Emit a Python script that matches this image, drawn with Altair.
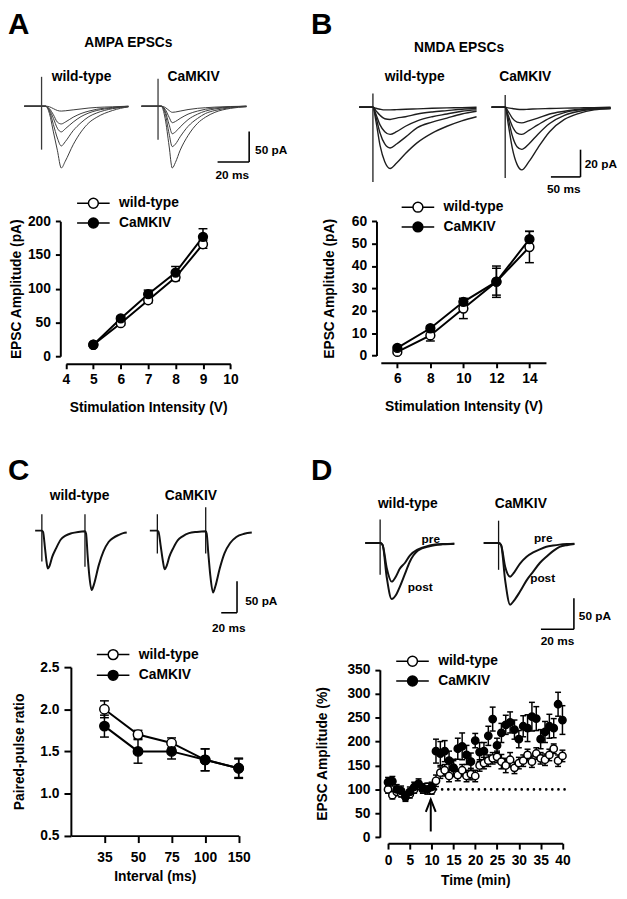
import altair as alt
import pandas as pd

FONT = "Liberation Sans"
W, H = 619, 883
M = 8  # page margin (image px -> canvas px)

# ---------------- summary data ----------------
A_STIM = [5, 6, 7, 8, 9]
A_WT = [17, 49, 83, 117, 166]
A_WT_SEM = [2, 3, 4, 5, 6]
A_CK = [17, 56, 92, 124, 177]
A_CK_SEM = [2, 3, 6, 9, 12]

B_STIM = [6, 8, 10, 12, 14]
B_WT = [1.6, 9, 21, 33, 48.5]
B_WT_SEM = [0.8, 2.5, 4.5, 7, 7]
B_CK = [3.4, 12.2, 24, 33, 52]
B_CK_SEM = [0.8, 1, 1.5, 6, 3.5]

C_INTERVALS = [35, 50, 75, 100, 150]
C_WT = [2.0, 1.7, 1.6, 1.4, 1.3]
C_WT_SEM = [0.1, 0.05, 0.06, 0.13, 0.11]
C_CK = [1.8, 1.5, 1.5, 1.4, 1.3]
C_CK_SEM = [0.13, 0.14, 0.09, 0.13, 0.12]

D_TIME = list(range(0, 41))
D_WT = [100, 88, 95, 92, 85, 90, 100, 108, 100, 105, 98,
        118, 135, 140, 128, 145, 130, 140, 128, 132, 128,
        150, 155, 160, 165, 168, 158, 150, 162, 145, 155,
        160, 172, 158, 175, 165, 162, 172, 185, 160, 170]
D_WT_SEM = [8, 8, 8, 8, 8, 8, 8, 8, 8, 8, 8,
            12, 12, 12, 12, 15, 12, 12, 12, 12, 12,
            12, 12, 12, 12, 12, 15, 15, 15, 12, 12,
            12, 12, 12, 12, 12, 12, 12, 10, 12, 12]
D_CK = [115, 117, 100, 97, 85, 95, 105, 112, 102, 100, 105,
        180, 175, 180, 160, 145, 185, 190, 172, 158, 202,
        178, 180, 212, 247, 192, 218, 235, 240, 225, 205,
        232, 228, 252, 248, 205, 220, 232, 228, 278, 245]
D_CK_SEM = [10, 10, 10, 10, 10, 10, 10, 10, 10, 10, 10,
            25, 25, 22, 20, 18, 22, 28, 20, 18, 15,
            20, 18, 20, 25, 15, 20, 20, 22, 20, 18,
            22, 28, 30, 25, 20, 22, 25, 20, 25, 30]
D_BASELINE = 100
D_DOTS_FROM, D_DOTS_TO = 11, 40.8
D_ARROW_T, D_ARROW_FROM, D_ARROW_TO = 9.8, 12, 79

# ---------------- example traces (ms, pA) ----------------
AMPA_WT_T = [-11, 0, 2.5, 5, 7.5, 10, 12.5, 15, 20, 25, 30, 35, 45, 55]
AMPA_WT = [
    [0, 0, 0, -1, -4, -7, -8, -7.5, -6, -4.5, -3, -2, -1, 0],
    [0, 0, 0, -4, -14, -26, -29, -26, -18, -12, -8, -5, -2, 0],
    [0, 0, 0, -6, -20, -36, -42, -37, -26, -17, -11, -7, -3, -0.5],
    [0, 0, 0, -8, -30, -52, -65, -58, -40, -27, -17, -11, -4, -1],
    [0, 0, 0, -12, -42, -72, -101, -90, -63, -42, -27, -18, -7, -1],
]
AMPA_CK_T = [-10.5, 0, 2, 4.5, 7, 9, 11, 14, 19, 25, 30, 36, 46, 56]
AMPA_CK = [
    [0, 0, 0, -2, -7, -10, -9.5, -8, -5.5, -3.5, -2.5, -1.5, -0.5, 0],
    [0, 0, 0, -5, -18, -27, -25, -20, -13, -8, -5, -3, -1, 0],
    [0, 0, 0, -8, -30, -45, -42, -34, -22, -13, -8, -4.5, -1.5, 0],
    [0, 0, 0, -12, -45, -66, -62, -50, -33, -20, -12, -7, -2.5, -0.5],
    [0, 0, 0, -20, -65, -101, -92, -72, -48, -28, -18, -10, -3.5, -1],
]
AMPA_WT_ART = [(0, 48, -71)]
AMPA_CK_ART = [(0, 45, -55)]

NMDA_WT_T = [-23, 0, 5, 12, 20, 29, 40, 55, 75, 100, 125, 150, 175]
NMDA_WT = [
    [0, 0, -0.8, -1.5, -2, -2, -1.8, -1.5, -1.2, -0.8, -0.5, -0.3, 0],
    [0, 0, -2.5, -6, -8.5, -9, -8, -7, -5, -3.5, -2.5, -1.5, -1],
    [0, 0, -5, -13, -18, -20, -18, -14, -10, -7, -5, -3, -2],
    [0, 0, -7, -19, -27, -30, -27, -22, -15, -11, -8, -5, -3],
    [0, 0, -10, -28, -40, -45, -41, -34, -26, -19, -14, -10, -7],
]
NMDA_CK_T = [-23, 0, 5, 12, 20, 28, 40, 55, 75, 100, 125, 150, 178]
NMDA_CK = [
    [0, 0, -0.5, -1, -1.5, -1.7, -1.5, -1.2, -1, -0.7, -0.5, -0.3, 0],
    [0, 0, -3, -8, -11, -11.5, -10, -8, -5, -3, -1.5, -1, -0.5],
    [0, 0, -6, -14, -19, -20, -17, -13, -8, -4, -2, -1, -0.5],
    [0, 0, -8, -21, -29, -31, -27, -20, -12, -6, -3, -1.5, -1],
    [0, 0, -12, -30, -42, -46, -40, -30, -18, -9, -4.5, -2, -1],
]
NMDA_WT_ART = [(0, 10, -55)]
NMDA_CK_ART = [(0, 9, -52)]

PPR_WT_T = [-8.5, 0, 1.5, 4, 6, 7.5, 10, 13, 18, 24, 30, 38, 46, 54.6,
            56, 58, 60, 63, 66, 72, 78, 84.5, 91, 97, 103, 107.5]
PPR_WT = [[0, 0, -2, -28, -50, -60, -55, -42, -28, -14, -8, -4, -2, -1,
           -5, -40, -70, -94, -85, -55, -33, -18, -11, -7, -4, -3]]
PPR_CK_T = [-9.5, 0, 1.5, 4, 7, 9.25, 12, 15, 20, 26, 32, 40, 50,
            61.25, 62.5, 64.5, 67, 70.5, 73.5, 79, 85, 92, 100, 110, 119.6]
PPR_CK = [[0, 0, -2, -22, -48, -61, -55, -42, -28, -15, -9, -4, -2,
           -1, -5, -35, -70, -98, -88, -60, -36, -20, -10, -5, -3]]
PPR_WT_ART = [(0, 26, -49), (54.6, 26, -57)]
PPR_CK_ART = [(0, 26, -36), (61.25, 37, -36)]

LTP_WT_T = [-9, 0, 1.5, 4, 7, 9.5, 12, 15, 18, 23, 30, 38, 45]
LTP_WT = [
    [0, 0, -3, -40, -62, -54, -41, -32, -20, -10, -4, -1.5, -1],
    [0, 0, -3, -55, -90, -84, -70, -50, -30, -12, -5, -2, -1],
]
LTP_CK_T = [-9, 0, 1.5, 4, 7, 9.5, 13, 17, 21, 25, 29, 33, 37, 42, 46]
LTP_CK = [
    [0, 0, -3, -38, -54, -47, -33, -22, -15, -10, -6, -4, -2.5, -1.5, -1],
    [0, 0, -3, -60, -99, -92, -78, -60, -46, -32, -22, -13, -6, -3, -1.5],
]
LTP_WT_ART = [(0, 38, -51)]
LTP_CK_ART = [(0, 36, -43)]

GENOS = ["wild-type", "CaMKIV"]
SYM = "M-3.3,0L-1,0M1,0L3.3,0M1,0A1,1,0,1,0,-1,0A1,1,0,1,0,1,0Z"


def trace_block(times, traces, arts, stim, base, kx, ky, color, sw, bar=None):
    df = pd.DataFrame([{"t": t, "a": a, "k": i}
                       for i, tr in enumerate(traces) for t, a in zip(times, tr)])
    t0, t1, a0, a1 = -100.0, 300.0, -300.0, 100.0
    xs = alt.Scale(domain=[t0, t1], range=[stim - M + t0 * kx, stim - M + t1 * kx], zero=False, nice=False)
    ys = alt.Scale(domain=[a0, a1], range=[base - M - a0 * ky, base - M - a1 * ky], zero=False, nice=False)
    layers = [alt.Chart(df).mark_line(interpolate="monotone", color=color, strokeWidth=sw).encode(
        x=alt.X("t:Q", scale=xs, axis=None), y=alt.Y("a:Q", scale=ys, axis=None),
        detail="k:N", order="t:Q")]
    adf = pd.DataFrame(arts, columns=["t", "top", "bot"])
    layers.append(alt.Chart(adf).mark_rule(color=color, strokeWidth=1.3).encode(
        x=alt.X("t:Q", scale=xs, axis=None), y=alt.Y("top:Q", scale=ys, axis=None), y2="bot:Q"))
    if bar:
        bx, by, ms, pa = bar
        bdf = pd.DataFrame({"x1": [bx, bx + ms], "x2": [bx + ms, bx + ms],
                            "y1": [by, by], "y2": [by, by + pa]})
        layers.append(alt.Chart(bdf).mark_rule(color="black", strokeWidth=1.6).encode(
            x=alt.X("x1:Q", scale=xs, axis=None), x2="x2:Q",
            y=alt.Y("y1:Q", scale=ys, axis=None), y2="y2:Q"))
    return alt.layer(*layers)


def axis(orient, offset, values, title, tpad, lpad=4, tsize=5, fmt=None, lexpr=None):
    kw = dict(orient=orient, offset=offset, values=values, title=title, titlePadding=tpad, grid=False,
              domainColor="black", domainWidth=2, tickColor="black", tickWidth=2, tickSize=tsize,
              labelFont=FONT, labelFontSize=14, labelFontWeight="bold", labelColor="black",
              labelPadding=lpad, titleFont=FONT, titleFontSize=14, titleFontWeight="bold",
              titleColor="black", labelFlush=False, labelOverlap=False, labelBound=False)
    if fmt:
        kw["format"] = fmt
    if lexpr:
        kw["labelExpr"] = lexpr
    return alt.Axis(**kw)


def legend(lx, ly, rp=4):
    return alt.Legend(title=None, orient="none", legendX=lx, legendY=ly, direction="vertical",
                      symbolType=SYM, symbolSize=100, symbolStrokeColor="black", symbolStrokeWidth=1.5,
                      labelFont=FONT, labelFontSize=14, labelFontWeight="bold", labelColor="black",
                      labelOffset=19, rowPadding=rp, padding=0)


def summary(xv, wt, wt_s, ck, ck_s, xs, ys, xax, yax, leg, size, cap, with_line=True, extra=None):
    n = len(xv)
    df = pd.DataFrame({"x": list(xv) * 2, "m": wt + ck, "s": wt_s + ck_s,
                       "g": [GENOS[0]] * n + [GENOS[1]] * n})
    df["lo"] = df.m - df.s
    df["hi"] = df.m + df.s
    X = alt.X("x:Q", scale=xs, axis=xax)
    base = alt.Chart(df)
    layers = []
    if with_line:
        layers.append(base.mark_line(color="black", strokeWidth=2).encode(
            x=X, y=alt.Y("m:Q", scale=ys, axis=yax), detail="g:N"))
    layers.append(base.mark_rule(color="black", strokeWidth=1.5).encode(
        x=X, y=alt.Y("lo:Q", scale=ys, axis=yax), y2="hi:Q"))
    for f in ("lo", "hi"):
        layers.append(base.mark_point(shape="M-1,0L1,0", size=cap * cap, color="black",
                                      strokeWidth=1.5, opacity=1).encode(
            x=X, y=alt.Y(f"{f}:Q", scale=ys, axis=yax)))
    if extra:
        layers += extra
    layers.append(base.mark_point(shape="circle", size=size, filled=True, stroke="black",
                                  strokeWidth=1.5, opacity=1).encode(
        x=X, y=alt.Y("m:Q", scale=ys, axis=yax),
        fill=alt.Fill("g:N", scale=alt.Scale(domain=GENOS, range=["white", "black"]), legend=leg)))
    return alt.layer(*layers)


def sc(d, r0, r1):
    return alt.Scale(domain=d, range=[r0 - M, r1 - M], zero=False, nice=False)


# ---------------- panel A ----------------
A_tr_wt = trace_block(AMPA_WT_T, AMPA_WT, AMPA_WT_ART, 42, 101.7, 1.6, 0.62, "#3a3a3a", 1.0)
A_tr_ck = trace_block(AMPA_CK_T, AMPA_CK, AMPA_CK_ART, 160, 101.7, 1.6, 0.62, "#3a3a3a", 1.0,
                      bar=(37.7, -91.3, 20, 50))
A_xs, A_ys = sc([4, 10], 66.7, 233.3), sc([0, 200], 355, 218.3)
A_plot = summary(A_STIM, A_WT, A_WT_SEM, A_CK, A_CK_SEM, A_xs, A_ys,
                 axis("bottom", (362.7 - M) - H, [4, 5, 6, 7, 8, 9, 10], "Stimulation Intensity (V)", 14),
                 axis("left", -(61 - M), [0, 50, 100, 150, 200], "EPSC Amplitude (pA)", 4, lpad=5),
                 legend(92.5 - M - 5, 200 - M - 7), 80, 9)

# ---------------- panel B ----------------
B_tr_wt = trace_block(NMDA_WT_T, NMDA_WT, NMDA_WT_ART, 377.7, 102.7, 0.6, 1.38, "#1e1e1e", 1.4)
B_tr_ck = trace_block(NMDA_CK_T, NMDA_CK, NMDA_CK_ART, 511.7, 102.7, 0.6, 1.38, "#1e1e1e", 1.4,
                      bar=(77.2, -51.2, 50, 20))
B_xs, B_ys = sc([5, 15], 385.7, 553), sc([0, 60], 354.3, 218.3)
B_plot = summary(B_STIM, B_WT, B_WT_SEM, B_CK, B_CK_SEM, B_xs, B_ys,
                 axis("bottom", (361.7 - M) - H, [6, 8, 10, 12, 14], "Stimulation Intensity (V)", 14),
                 axis("left", -(381.3 - M), [0, 10, 20, 30, 40, 50, 60], "EPSC Amplitude (pA)", 15, lpad=5),
                 legend(421.3 - M - 5, 204 - M - 7), 80, 9)

# ---------------- panel C ----------------
C_tr_wt = trace_block(PPR_WT_T, PPR_WT, PPR_WT_ART, 42.3, 531.7, 0.8, 0.64, "#111111", 2.0)
C_tr_ck = trace_block(PPR_CK_T, PPR_CK, PPR_CK_ART, 159.3, 531.7, 0.8, 0.64, "#111111", 2.0,
                      bar=(80.9, -130, 20, 50))
C_IDX = list(range(1, len(C_INTERVALS) + 1))
C_LABELS = "[''," + ",".join(f"'{v}'" for v in C_INTERVALS) + "][datum.value]"
C_xs, C_ys = sc([0, 5], 71.7, 241.7), sc([0.5, 2.5], 840.7, 670)
C_plot = summary(C_IDX, C_WT, C_WT_SEM, C_CK, C_CK_SEM, C_xs, C_ys,
                 axis("bottom", (840.7 - M) - H, C_IDX, "Interval (ms)", 5, lpad=8, tsize=7,
                      lexpr=C_LABELS),
                 axis("left", -(71.7 - M), [0.5, 1.0, 1.5, 2.0, 2.5], "Paired-pulse ratio", 14,
                      lpad=5, tsize=7, fmt=".1f"),
                 legend(112.5 - M - 5, 657.3 - M - 7, rp=5), 90, 9)

# ---------------- panel D ----------------
D_tr_wt = trace_block(LTP_WT_T, LTP_WT, LTP_WT_ART, 385, 544.3, 1.67, 0.63, "#111111", 2.0)
D_tr_ck = trace_block(LTP_CK_T, LTP_CK, LTP_CK_ART, 505, 544.3, 1.67, 0.63, "#111111", 2.0,
                      bar=(25.7, -138.7, 20, 50))
D_xs, D_ys = sc([0, 40], 393, 569.7), sc([0, 350], 842.3, 672.7)
dots = alt.Chart(pd.DataFrame({"x": [D_DOTS_FROM], "x2": [D_DOTS_TO], "y": [D_BASELINE]})).mark_rule(
    color="black", strokeWidth=2.6, strokeDash=[0.1, 6.1], strokeCap="round").encode(
    x=alt.X("x:Q", scale=D_xs), x2="x2:Q", y=alt.Y("y:Q", scale=D_ys))
arrow_df = pd.DataFrame({"x": [D_ARROW_T], "y": [D_ARROW_FROM], "y2": [D_ARROW_TO]})
arrow_line = alt.Chart(arrow_df).mark_rule(color="black", strokeWidth=2).encode(
    x=alt.X("x:Q", scale=D_xs), y=alt.Y("y:Q", scale=D_ys), y2="y2:Q")
arrow_head = alt.Chart(arrow_df).mark_point(shape="M-1,2.5L0,0L1,2.5", size=100, color="black",
                                            strokeWidth=2, opacity=1).encode(
    x=alt.X("x:Q", scale=D_xs), y=alt.Y("y2:Q", scale=D_ys))
D_plot = summary(D_TIME, D_WT, D_WT_SEM, D_CK, D_CK_SEM, D_xs, D_ys,
                 axis("bottom", (848.3 - M) - H, [0, 5, 10, 15, 20, 25, 30, 35, 40], "Time (min)", 6,
                      lpad=5, tsize=6),
                 axis("left", -(384.7 - M), [0, 50, 100, 150, 200, 250, 300, 350], "EPSC Amplitude (%)", 18,
                      lpad=5),
                 legend(415.8 - M - 5, 664 - M - 7), 55, 6, with_line=False,
                 extra=[dots, arrow_line, arrow_head])


# ---------------- text ----------------
def texts(rows, size, align="center", baseline="middle"):
    df = pd.DataFrame(rows, columns=["x", "y", "text"])
    df["x"] = df["x"] - M
    df["y"] = df["y"] - M
    return alt.Chart(df).mark_text(font=FONT, fontSize=size, fontWeight="bold", align=align,
                                   baseline=baseline, color="black").encode(
        x=alt.X("x:Q", scale=None), y=alt.Y("y:Q", scale=None), text="text:N")


letters = texts([(8, 29, "A"), (315, 29, "B"), (8, 480, "C"), (315, 480, "D")], 30,
                align="left", baseline="alphabetic")
heads = texts([(130, 37.3, "AMPA EPSCs"), (465, 43, "NMDA EPSCs"),
               (82.5, 71.7, "wild-type"), (196, 71.7, "CaMKIV"),
               (420, 71.7, "wild-type"), (532, 71.7, "CaMKIV"),
               (80.5, 496.7, "wild-type"), (193.3, 496.7, "CaMKIV"),
               (413, 505, "wild-type"), (527.5, 505, "CaMKIV")], 14)
bars_r = texts([(258.3, 145.7, "50 pA"), (592.3, 160.5, "20 pA"),
                (248.3, 602.7, "50 pA"), (586.3, 618.3, "50 pA"),
                (427, 540, "pre"), (413, 589, "post"), (541, 539, "pre"), (537, 580, "post")],
               12, align="left")
bars_c = texts([(235.2, 171, "20 ms"), (571, 186, "50 ms"), (231.7, 630.7, "20 ms"), (564.7, 644, "20 ms")], 12)

chart = alt.layer(
    A_tr_wt, A_tr_ck, B_tr_wt, B_tr_ck, C_tr_wt, C_tr_ck, D_tr_wt, D_tr_ck,
    A_plot, B_plot, C_plot, D_plot, letters, heads, bars_r, bars_c,
).resolve_scale(x="independent", y="independent", fill="independent").resolve_legend(
    fill="independent").properties(
    width=W, height=H, padding=0, autosize=alt.AutoSizeParams(type="none"), background="white"
).configure_view(stroke=None)

chart.save("out.html", embed_options={"renderer": "svg", "actions": False})
